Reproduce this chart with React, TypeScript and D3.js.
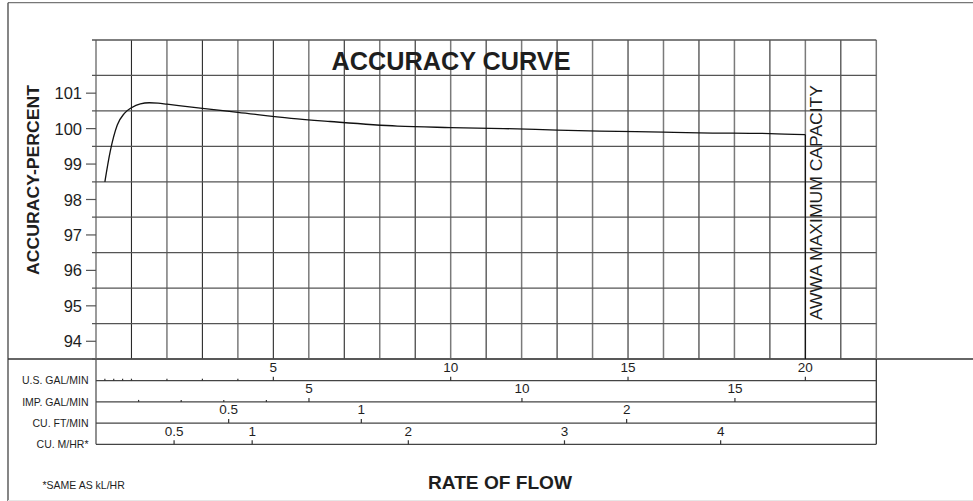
import React from 'react'
import * as d3 from 'd3'

// accuracy curve (flow in US gal/min, accuracy in percent)
const flowGpm = [0.25, 0.4, 0.6, 0.8, 1.0, 1.25, 1.5, 1.75, 2, 3, 4, 5.5, 6.6, 8.5, 10, 11.5, 13, 14.2, 16, 17, 19, 20]
const accuracy = [98.5, 99.35, 100.1, 100.43, 100.59, 100.7, 100.73, 100.72, 100.69, 100.57, 100.46, 100.29, 100.2, 100.07, 100.03, 100.0, 99.96, 99.93, 99.9, 99.88, 99.86, 99.83]

const yTicks = [94, 95, 96, 97, 98, 99, 100, 101]
const maxCapacityGpm = 20

// secondary flow scales below the chart
const rowLabels = ['U.S. GAL/MIN', 'IMP. GAL/MIN', 'CU. FT/MIN', 'CU. M/HR*']
const rowFactors = [1, 1.20095, 7.48052, 4.40287] // US gal/min per unit
const usGpmTicks = [5, 10, 15, 20]
const usGpmMinor = [0.25, 0.5, 0.75, 1, 2, 3, 4]
const impGpmTicks = [5, 10, 15]
const impGpmMinor = [1, 2, 3, 4]
const cfmTicks = [0.5, 1, 2]
const m3hTicks = [0.5, 1, 2, 3, 4]
const rowTicks = [usGpmTicks, impGpmTicks, cfmTicks, m3hTicks]
const rowMinor = [usGpmMinor, impGpmMinor, [], []]

const font = '"Liberation Sans", Arial, Helvetica, sans-serif'
const ink = '#1e1e1e'
const gridColor = '#555'

const App = () => {
  const x = d3.scaleLinear().domain([0, 22]).range([96, 876.3])
  const y = d3.scaleLinear().domain([93.5, 102.5]).range([359, 40])
  const rowY = d3.scaleLinear().domain([0, 3]).range([380.7, 444.3])

  const points = flowGpm.map((f, i) => [f, accuracy[i]] as [number, number])
  const line = d3.line<[number, number]>()
    .x(d => x(d[0]))
    .y(d => y(d[1]))
    .curve(d3.curveMonotoneX)

  const vLines = d3.range(0, 23)
  const hLines = d3.range(93.5, 103, 1)

  return (
    <div style={{ position: 'absolute', left: 0, top: 0 }}>
      <svg width={973} height={501} style={{ display: 'block', background: '#fff' }} fontFamily={font}>
        {/* outer frame */}
        <line x1={8} x2={973} y1={2.7} y2={2.7} stroke="#777" strokeWidth={1.3} />
        <line x1={8} x2={8} y1={2.7} y2={501} stroke="#444" strokeWidth={1.3} />
        <line x1={8} x2={973} y1={359} y2={359} stroke="#333" strokeWidth={1.3} />
        <line x1={8} x2={973} y1={500.5} y2={500.5} stroke="#e6e6e6" strokeWidth={1} />

        {/* grid */}
        {vLines.map(v => (
          <line key={'v' + v} x1={x(v)} x2={x(v)} y1={y(102.5)} y2={y(93.5)}
            stroke={v % 2 === 0 ? '#7a7a7a' : '#2a2a2a'} strokeWidth={v % 2 === 0 ? 1.5 : 1.1} />
        ))}
        {hLines.map(h => (
          <line key={'h' + h} x1={92} x2={x(22)} y1={y(h)} y2={y(h)} stroke={gridColor} strokeWidth={1.3} />
        ))}

        {/* y axis */}
        {yTicks.map(t => (
          <g key={'yt' + t}>
            <line x1={86} x2={96} y1={y(t)} y2={y(t)} stroke={gridColor} strokeWidth={1.2} />
            <text x={82} y={y(t) + 6} textAnchor="end" fontSize={16.5} fill={ink}>{t}</text>
          </g>
        ))}
        <text transform={`translate(38.5,180) rotate(-90)`} textAnchor="middle" fontSize={17}
          fontWeight="bold" fill={ink} textLength={190} lengthAdjust="spacingAndGlyphs">ACCURACY-PERCENT</text>

        {/* title */}
        <text x={451} y={70} textAnchor="middle" fontSize={25} fontWeight="bold" fill={ink}
          textLength={239} lengthAdjust="spacingAndGlyphs">ACCURACY CURVE</text>

        {/* curve */}
        <path d={line(points) ?? ''} fill="none" stroke="#111" strokeWidth={1.3} />
        <line x1={x(maxCapacityGpm)} x2={x(maxCapacityGpm)} y1={y(accuracy[accuracy.length - 1])} y2={y(93.5)}
          stroke="#111" strokeWidth={1.2} />
        <text transform={`translate(821.5,202.5) rotate(-90)`} textAnchor="middle" fontSize={17.3} fill={ink}
          textLength={235} lengthAdjust="spacingAndGlyphs">AWWA MAXIMUM CAPACITY</text>

        {/* flow scales */}
        <line x1={96} x2={96} y1={359} y2={rowY(3)} stroke={gridColor} strokeWidth={1.3} />
        <line x1={x(22)} x2={x(22)} y1={359} y2={rowY(3)} stroke="#333" strokeWidth={1.3} />
        {rowLabels.map((label, i) => {
          const ly = rowY(i)
          return (
            <g key={label}>
              <line x1={96} x2={x(22)} y1={ly} y2={ly} stroke="#444" strokeWidth={1.3} />
              <text x={88.5} y={ly + 3.7} textAnchor="end" fontSize={10.5} fill={ink}>{label}</text>
              {rowMinor[i].map(m => (
                <line key={'m' + m} x1={x(m * rowFactors[i])} x2={x(m * rowFactors[i])} y1={ly - 2} y2={ly}
                  stroke="#333" strokeWidth={1.2} />
              ))}
              {rowTicks[i].map(t => (
                <g key={'t' + t}>
                  <line x1={x(t * rowFactors[i])} x2={x(t * rowFactors[i])} y1={ly - 4} y2={ly}
                    stroke="#333" strokeWidth={1.2} />
                  <text x={x(t * rowFactors[i])} y={ly - 8.7} textAnchor="middle" fontSize={13.5} fill={ink}>{t}</text>
                </g>
              ))}
            </g>
          )
        })}

        <text x={42.5} y={488.5} fontSize={10.5} fill={ink}>*SAME AS kL/HR</text>
        <text x={500} y={489} textAnchor="middle" fontSize={19} fontWeight="bold" fill={ink}
          textLength={144} lengthAdjust="spacingAndGlyphs">RATE OF FLOW</text>
      </svg>
    </div>
  )
}

export default App
